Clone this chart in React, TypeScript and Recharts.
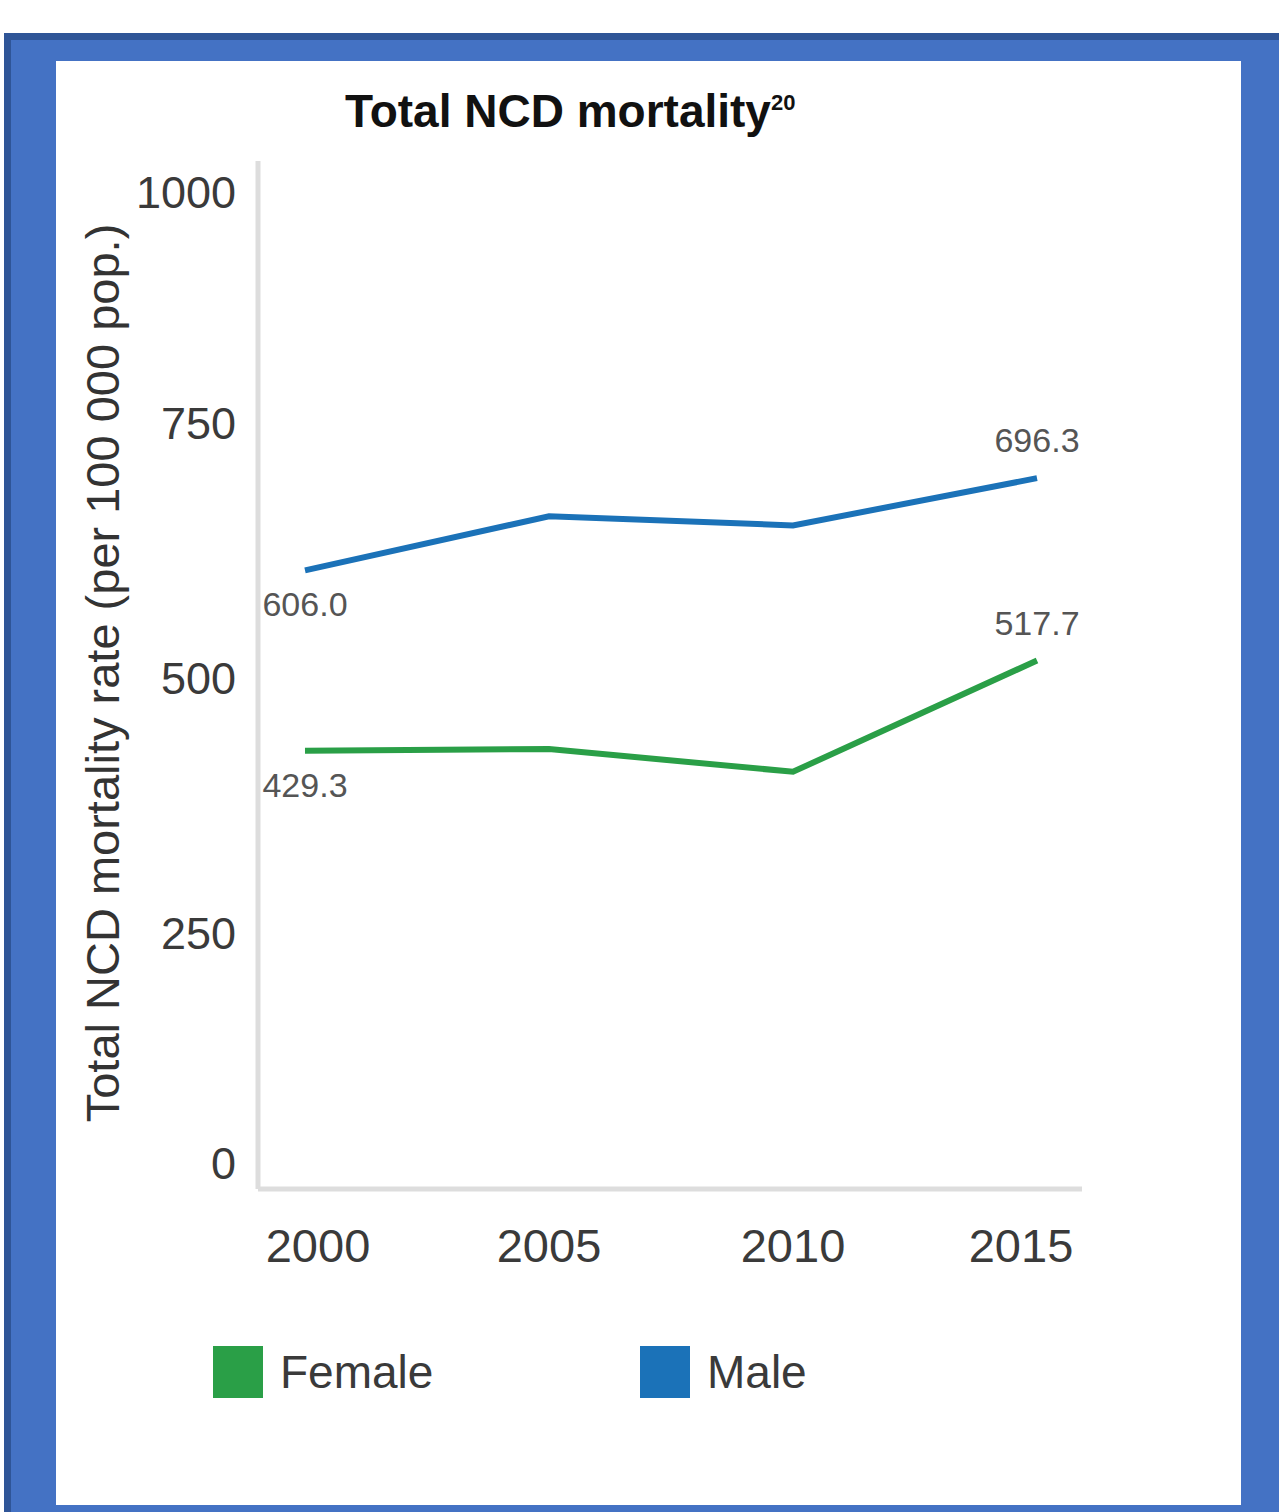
import { LineChart, Line, XAxis, YAxis, LabelList } from 'recharts';

const years = ['2000', '2005', '2010', '2015'];
const female = [429.3, 431, 408.7, 517.7];
const male = [606.0, 659, 650, 696.3];
const yTicks = [0, 250, 500, 750, 1000];

const series = [
  { key: 'Female', color: '#2A9F47' },
  { key: 'Male', color: '#1B72B8' },
];

const chartData = years.map((year, i) => ({ year, Female: female[i], Male: male[i] }));

const FONT = '"Liberation Sans", Arial, sans-serif';

// only first and last points carry a value, first below, last above
const endLabel = (props: any) => {
  const { x, y, index, value } = props;
  const last = years.length - 1;
  if (index !== 0 && index !== last) return null;
  const dy = index === 0 ? 34 : -38;
  return (
    <text x={x} y={y + dy} textAnchor="middle" dominantBaseline="central" fontSize={34} fill="#555" fontFamily={FONT}>
      {Number(value).toFixed(1)}
    </text>
  );
};

const yTick = (props: any) => {
  const { x, y, payload } = props;
  const nudge = payload.value === 1000 ? 24 : payload.value === 0 ? -26 : 0;
  return (
    <text x={x} y={y + nudge} textAnchor="end" dominantBaseline="central" fontSize={45} fill="#3a3a3a" fontFamily={FONT}>
      {payload.value}
    </text>
  );
};

// end labels sit a little inside the plot, like the source
const xTick = (props: any) => {
  const { x, y, payload, index } = props;
  const nudge = index === 0 ? 13 : index === years.length - 1 ? -16 : 0;
  return (
    <text x={x + nudge} y={y} dy="0.71em" textAnchor="middle" fontSize={47} fill="#3a3a3a" fontFamily={FONT}>
      {payload.value}
    </text>
  );
};

const yLabel = (props: any) => {
  const vb = props.viewBox || {};
  const cx = (vb.x ?? 0) + 102;
  const cy = (vb.y ?? 0) + (vb.height ?? 0) / 2 - 2;
  return (
    <text
      x={cx}
      y={cy}
      transform={`rotate(-90, ${cx}, ${cy})`}
      textAnchor="middle"
      dominantBaseline="central"
      fontSize={47}
      fill="#333"
      fontFamily={FONT}
    >
      Total NCD mortality rate (per 100 000 pop.)
    </text>
  );
};

export default function App() {
  return (
    <div style={{ position: 'absolute', left: 0, top: 0, width: 1279, height: 1512, overflow: 'hidden', background: '#fff', fontFamily: FONT }}>
      <div style={{ position: 'absolute', left: 4, top: 33, width: 1300, height: 1500, background: '#2F5597' }} />
      <div style={{ position: 'absolute', left: 11, top: 40, width: 1300, height: 1500, background: '#4472C4' }} />
      <div style={{ position: 'absolute', left: 56, top: 61, width: 1185, height: 1444, background: '#fff' }} />

      <div style={{ position: 'absolute', left: 0, top: 0 }}>
        <LineChart width={1279} height={1512} data={chartData} margin={{ top: 161, right: 197, left: 0, bottom: 0 }}>
          <XAxis
            dataKey="year"
            height={323}
            padding={{ left: 47, right: 45 }}
            axisLine={{ stroke: '#DDDDDD', strokeWidth: 5 }}
            tickLine={false}
            tickSize={0}
            tickMargin={40}
            tick={xTick}
          />
          <YAxis
            width={258}
            domain={[0, 1007]}
            ticks={yTicks}
            axisLine={{ stroke: '#DDDDDD', strokeWidth: 5 }}
            tickLine={false}
            tickSize={0}
            tickMargin={22}
            tick={yTick}
            label={{ content: yLabel }}
          />
          {series.map((s) => (
            <Line
              key={s.key}
              type="linear"
              dataKey={s.key}
              stroke={s.color}
              strokeWidth={6}
              dot={false}
              activeDot={false}
              isAnimationActive={false}
            >
              <LabelList dataKey={s.key} content={endLabel} />
            </Line>
          ))}
        </LineChart>
      </div>

      <div style={{ position: 'absolute', left: 345, top: 84, fontSize: 46, fontWeight: 'bold', color: '#111', whiteSpace: 'nowrap' }}>
        Total NCD mortality<sup style={{ fontSize: 22, fontWeight: 'bold', verticalAlign: 'top', position: 'relative', top: 6 }}>20</sup>
      </div>

      <div style={{ position: 'absolute', left: 213, top: 1345, display: 'flex' }}>
        {series.map((s) => (
          <div key={s.key} style={{ width: 427, display: 'flex', alignItems: 'center' }}>
            <div style={{ width: 50, height: 52, background: s.color }} />
            <span style={{ marginLeft: 17, fontSize: 46, color: '#3a3a3a' }}>{s.key}</span>
          </div>
        ))}
      </div>
    </div>
  );
}
